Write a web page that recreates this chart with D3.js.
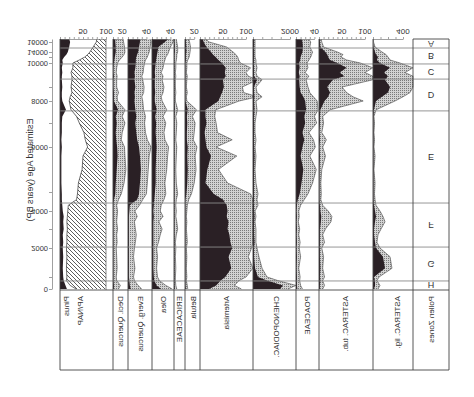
<!DOCTYPE html>
<html>
<head>
<meta charset="utf-8">
<script src="https://d3js.org/d3.v7.min.js"></script>
<style>
body { margin: 0; background: #fff; }
text { font-family: "Liberation Sans", Arial, sans-serif; fill: #333; }
</style>
</head>
<body>
<script>
// sample ages (years BP), bottom of core to top
var ages = [0, 300, 700, 1000, 1300, 1700, 2000, 2300, 2700, 3000,
            3400, 3700, 4000, 4300, 4600, 4900, 5200, 5500, 5800, 6000,
            6300, 6600, 7000, 7300, 7600, 8000, 8300, 8600, 9000, 9300,
            9450, 9600, 9800, 10000, 11000, 12000, 13000, 14000, 15000, 16000,
            16500];

var pinus = [15,12,8,7,6,7,6,7,6,8, 7,8,6,5,4, 4,3,3,3,4, 3,4,4,5,13, 5,4,4,5,4, 4,5,4,6,5, 9,14,17,20,22, 20];
var apNap = [35,22,14,15,14,15,14,15,15,16, 15,16,17,18,36, 38,40,48,50,60, 55,52,42,36,24, 20,22,26,24,26, 26,24,28,28,42, 54,60,65,72,79, 80];

var deciQ      = [2,2,1,1,1,1,1,1,1,1, 1,1,1,1,2, 5,6,8,10,9, 7,6,8,6,11, 2,2,2,1,1, 2,1,1,2,3, 4,5,6,6,5, 5];
var deciQx     = [12,16,8,7,9,8,7,9,8,10, 8,9,10,8,12, 18,24,28,26,25, 18,20,26,20,26, 10,9,12,8,8, 9,7,8,10,14, 20,24,26,25,23, 22];
var evergQ     = [6,4,3,2,2,2,2,2,2,2, 2,2,3,4,20, 24,26,28,26,24, 20,18,16,18,16, 14,15,14,16,14, 15,14,16,17,17, 18,20,22,24,26, 26];
var evergQx    = [30,22,14,12,15,12,14,16,18,16, 14,20,15,25,32, 40,42,44,46,50, 42,38,36,38,34, 32,30,34,35,32, 30,33,34,36,38, 42,44,46,48,50, 48];
var olea       = [20,10,5,4,3,3,3,3,3,3, 3,4,3,4,5, 6,8,8,9,10, 9,8,9,7,10, 6,6,7,6,6, 7,6,7,8,9, 10,11,12,14,28, 35];
var oleax      = [44,30,16,12,10,12,10,14,18,22, 15,24,18,20,26, 30,28,32,34,36, 28,26,30,24,32, 22,20,24,26,22, 24,20,24,26,28, 30,34,36,40,46, 48];
var erica      = [2,1,1,1,1,1,1,1,1,1, 1,1,1,1,1, 1,1,1,1,1, 1,1,1,1,2, 1,1,1,1,1, 1,1,1,1,1, 1,1,2,2,1, 1];
var ericax     = [6,4,3,3,4,3,4,3,5,8, 6,4,5,4,5, 8,5,4,5,6, 4,5,6,4,8, 3,3,4,3,3, 4,3,4,4,5, 6,6,8,8,6, 5];
var betula     = [2,1,1,1,1,1,1,1,1,1, 1,1,1,1,1, 3,5,6,5,6, 4,4,5,4,6, 1,1,1,1,1, 1,1,1,1,2, 2,2,3,3,2, 2];
var betulax    = [6,5,3,4,3,4,3,5,4,3, 4,3,4,5,8, 14,20,24,22,26, 18,20,22,16,25, 4,3,5,3,4, 5,3,4,4,6, 9,10,11,12,10, 8];
var artemisia  = [20,35,45,55,68,62,70,66,64,60, 62,58,60,58,50, 30,12,16,24,14, 12,10,14,12,12, 40,44,48,52,50, 56,54,56,48,40, 34,28,24,14,8, 6];
var artemisiax = [90,75,85,100,115,105,112,115,115,115, 115,115,115,115,115, 110,60,40,80,35, 70,38,35,32,34, 85,125,95,92,125, 105,100,110,88,84, 82,78,72,58,20, 12];
var cheno      = [1460,1620,760,270,110,54,54,80,54,54, 54,80,54,54,54, 54,54,54,80,54, 54,54,54,54,80, 54,80,54,54,216, 54,54,54,54,54, 54,54,54,54,54, 54];
var chenox     = [1890,2320,1350,760,490,320,216,160,160,160, 110,160,110,270,216, 270,160,110,160,110, 160,110,110,160,216, 160,490,216,160,490, 216,160,216,160,160, 110,110,110,110,110, 110];
var poaceae    = [3,2,2,2,1,2,1,2,1,2, 1,2,1,2,4, 8,12,16,10,14, 18,14,20,18,22, 20,16,10,8,7, 8,6,8,7,9, 10,12,14,15,14, 12];
var poaceaex   = [14,10,8,9,6,10,7,9,6,8, 5,7,6,10,18, 26,36,44,30,42, 38,28,45,40,48, 46,38,30,26,22, 28,20,26,24,28, 32,34,36,30,32, 28];
var astTub     = [2,2,3,2,3,2,2,2,2,2, 4,5,3,2,1, 1,1,1,2,1, 2,1,2,2,3, 12,20,24,18,30, 55,45,60,40,24, 20,18,14,3,2, 2];
var astTubx    = [8,12,8,12,8,10,6,12,8,14, 26,28,20,8,4, 5,4,6,14,8, 16,6,10,8,24, 96,74,60,50,117, 117,100,117,90,60, 48,52,40,10,6, 5];
var astLig     = [13,27,27,13,160,133,40,27,13,13, 27,40,27,13,7, 7,7,7,7,7, 7,7,7,7,13, 40,120,200,227,160, 200,147,227,93,53, 67,40,27,7,0, 0];
var astLigx    = [67,93,53,80,253,227,93,53,67,107, 160,133,93,40,27, 20,27,13,27,13, 20,13,20,13,40, 293,400,493,533,533, 533,427,533,360,227, 200,173,120,27,7, 7];

var zoneNames = ['A','B','C','D','E','F','G','H'];
var zoneBounds = [16500, 14800, 9960, 9330, 7550, 4420, 2050, 670, 0];
var ageMajor = [0, 2000, 4000, 6000, 8000, 10000, 14000, 16000];
var ageMinor = [1000, 3000, 5000, 7000, 9000, 12000];

// the figure is printed mirrored top-to-bottom, so all text is flipped
var W = 474, H = 397;
var svg = d3.select('body').append('svg').attr('width', W).attr('height', H);

var y = d3.scaleLinear()
  .domain([0, 1000, 2000, 3000, 4000, 5000, 6000, 7000, 8000, 9000, 10000, 12000, 14000, 16000, 16500])
  .range([289, 277, 248, 229, 211, 192, 147, 123, 101, 87, 63, 57, 52, 42, 39]);

var plotTop = 39, plotBottom = 290, boxBottom = 370;
var edges = [60, 113, 128, 152, 174, 185, 200, 253, 296, 319, 373, 413, 449];

var defs = svg.append('defs');
var stip = defs.append('pattern').attr('id', 'stip').attr('patternUnits', 'userSpaceOnUse')
  .attr('width', 2).attr('height', 2);
stip.append('rect').attr('width', 2).attr('height', 2).attr('fill', '#d2d2d2');
stip.append('rect').attr('width', 1).attr('height', 1).attr('fill', '#7a7a7a');
var hatch = defs.append('pattern').attr('id', 'hatch').attr('patternUnits', 'userSpaceOnUse')
  .attr('width', 4).attr('height', 4);
hatch.append('path').attr('d', 'M0,0 L4,4 M-1,3 L1,5 M3,-1 L5,1')
  .attr('stroke', '#333').attr('stroke-width', 0.8);

function flipText(g, str, x, yy, size, anchor, rot) {
  return g.append('text').text(str)
    .attr('transform', 'translate(' + x + ',' + yy + ') scale(1,-1)' + (rot ? ' rotate(' + rot + ')' : ''))
    .attr('text-anchor', anchor || 'middle')
    .attr('dominant-baseline', 'central')
    .style('font-size', size + 'px');
}

var taxa = [
  {name: 'Deci. Quercus',  left: 113, k: 0.46,  black: deciQ,     grey: deciQx,     ticks: [20],     labels: ['20'],  step: 10, lx: 120},
  {name: 'Everg. Quercus', left: 128, k: 0.46,  black: evergQ,    grey: evergQx,    ticks: [40],     labels: ['40'],  step: 10, lx: 140},
  {name: 'Olea',           left: 152, k: 0.46,  black: olea,      grey: oleax,      ticks: [40],     labels: ['40'],  step: 10, lx: 163},
  {name: 'ERICACEAE',      left: 174, k: 0.46,  black: erica,     grey: ericax,     ticks: [],       labels: [],      step: 10, lx: 179.5},
  {name: 'Betula',         left: 185, k: 0.46,  black: betula,    grey: betulax,    ticks: [20],     labels: ['20'],  step: 10, lx: 193},
  {name: 'Artemisia',      left: 200, k: 0.46,  black: artemisia, grey: artemisiax, ticks: [50,100], labels: ['50','100'], step: 10, lx: 226},
  {name: 'CHENOPODIAC.',   left: 253, k: 0.0185, black: cheno,    grey: chenox,     ticks: [2000],   labels: ['2000'], step: 500, lx: 276},
  {name: 'POACEAE',        left: 296, k: 0.46,  black: poaceae,   grey: poaceaex,   ticks: [40],     labels: ['40'],  step: 10, lx: 307},
  {name: 'ASTERAC. tub.',  left: 319, k: 0.46,  black: astTub,    grey: astTubx,    ticks: [50,100], labels: ['50','100'], step: 10, lx: 345},
  {name: 'ASTERAC. lig.',  left: 373, k: 0.075, black: astLig,    grey: astLigx,    ticks: [400],    labels: ['400'], step: 100, lx: 397}
];

var plot = svg.append('g');

function rows(arr) { return ages.map(function (a, i) { return {age: a, v: arr[i]}; }); }

function topAxis(xs, ticks, labels, step) {
  var last = ticks.length ? ticks[ticks.length - 1] : 0;
  if (!last) return;
  var ax = d3.scaleLinear().domain([0, last]).range([xs(0), xs(last)]);
  var g = plot.append('g').attr('transform', 'translate(0,' + plotTop + ')')
    .call(d3.axisTop(ax).tickValues(d3.range(0, last + step / 2, step)).tickSize(2).tickSizeOuter(0).tickFormat(''));
  g.selectAll('path,line').attr('stroke', '#777').attr('stroke-width', 0.7);
  ticks.forEach(function (t, i) { flipText(plot, labels[i], xs(t), 31, 8); });
}

// Pinus and AP/NAP
var xp = d3.scaleLinear().domain([0, 100]).range([60, 106]);
plot.append('path').datum(rows(apNap))
  .attr('d', d3.area().y(function (d) { return y(d.age); }).x0(function (d) { return xp(d.v); }).x1(xp(100)))
  .attr('fill', 'url(#hatch)').attr('stroke', 'none');
plot.append('path').datum(rows(apNap))
  .attr('d', d3.line().y(function (d) { return y(d.age); }).x(function (d) { return xp(d.v); }))
  .attr('fill', 'none').attr('stroke', '#333').attr('stroke-width', 0.7);
plot.append('line').attr('x1', xp(100)).attr('x2', xp(100)).attr('y1', plotTop).attr('y2', plotBottom)
  .attr('stroke', '#555').attr('stroke-width', 0.7);
plot.append('path').datum(rows(pinus))
  .attr('d', d3.area().y(function (d) { return y(d.age); }).x0(xp(0)).x1(function (d) { return xp(d.v); }))
  .attr('fill', '#2a2025');
topAxis(xp, [50, 100], ['50', '100'], 10);

taxa.forEach(function (t) {
  var xs = d3.scaleLinear().domain([0, 1]).range([t.left, t.left + t.k]);
  plot.append('path').datum(rows(t.grey))
    .attr('d', d3.area().y(function (d) { return y(d.age); }).x0(xs(0)).x1(function (d) { return xs(d.v); }))
    .attr('fill', 'url(#stip)');
  plot.append('path').datum(rows(t.grey))
    .attr('d', d3.line().y(function (d) { return y(d.age); }).x(function (d) { return xs(d.v); }))
    .attr('fill', 'none').attr('stroke', '#444').attr('stroke-width', 0.6);
  plot.append('path').datum(rows(t.black))
    .attr('d', d3.area().y(function (d) { return y(d.age); }).x0(xs(0)).x1(function (d) { return xs(d.v); }))
    .attr('fill', '#2a2025');
  topAxis(xs, t.ticks, t.labels, t.step);
});

// zone lines
var zoneG = svg.append('g');
zoneBounds.slice(1, -1).forEach(function (a) {
  zoneG.append('line').attr('x1', 60).attr('x2', 449).attr('y1', y(a)).attr('y2', y(a))
    .attr('stroke', '#8a8a8a').attr('stroke-width', 0.9);
});
zoneNames.forEach(function (z, i) {
  flipText(zoneG, z, 431, (y(zoneBounds[i]) + y(zoneBounds[i + 1])) / 2, 9);
});

// frame lines: column zero lines run through the label box
var frame = svg.append('g').attr('stroke', '#444').attr('stroke-width', 0.9);
edges.forEach(function (e) {
  frame.append('line').attr('x1', e).attr('x2', e).attr('y1', plotTop).attr('y2', boxBottom);
});
frame.append('line').attr('x1', 60).attr('x2', 449).attr('y1', plotBottom).attr('y2', plotBottom);
frame.append('line').attr('x1', 60).attr('x2', 449).attr('y1', boxBottom).attr('y2', boxBottom);
frame.append('line').attr('x1', 413).attr('x2', 449).attr('y1', plotTop).attr('y2', plotTop);

// taxon names
var names = svg.append('g');
flipText(names, 'Pinus', 66, 296, 8, 'start', -90);
flipText(names, 'AP/NAP', 80, 296, 8, 'start', -90);
taxa.forEach(function (t) { flipText(names, t.name, t.lx, 296, 8, 'start', -90); });
flipText(names, 'Pollen Zones', 431, 296, 8, 'start', -90);

// age axis
var yg = svg.append('g').attr('transform', 'translate(52,0)')
  .call(d3.axisLeft(y).tickValues(ageMajor.concat(ageMinor)).tickSize(3).tickSizeOuter(0).tickFormat(''));
yg.selectAll('path,line').attr('stroke', '#888').attr('stroke-width', 0.8);
ageMajor.forEach(function (a) { flipText(svg, String(a), 48, y(a), 7.5, 'end'); });
flipText(svg, 'Estimated Age (years BP)', 30, 170, 9, 'middle', -90);
</script>
</body>
</html>
